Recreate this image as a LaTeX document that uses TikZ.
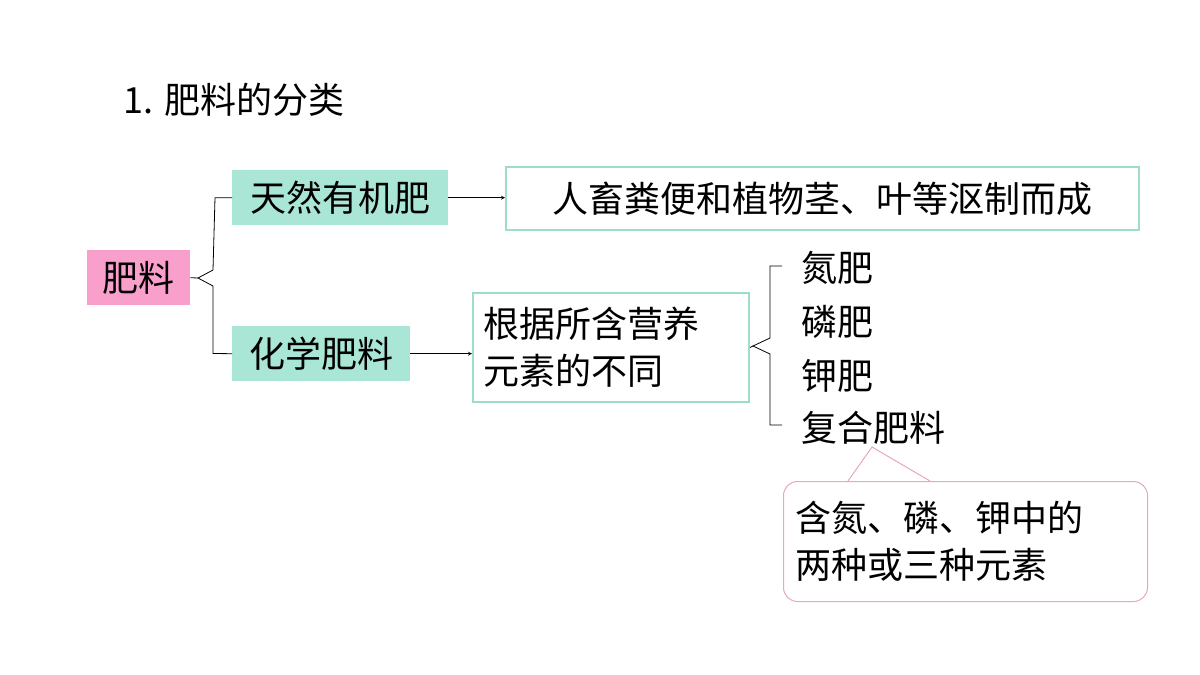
\documentclass[tikz,border=0pt]{standalone}
\usepackage{fontspec}
\setmainfont{Noto Sans CJK SC}
\begin{document}
\begin{tikzpicture}[x=1pt,y=-1pt,
  fs/.style={font=\fontsize{36}{47}\selectfont},
  tealbox/.style={fs,fill=tealfill,inner sep=0pt,anchor=north west},
  bordbox/.style={fs,draw=tealline,line width=2pt,inner sep=0pt,anchor=north west,align=left},
  arr/.style={-stealth,line width=0.8pt},
  brace/.style={line width=0.8pt}]
\definecolor{tealfill}{HTML}{A9E6D5}
\definecolor{tealline}{HTML}{9EDDCB}
\definecolor{pinkfill}{HTML}{F99FCB}
\definecolor{pinkline}{HTML}{E8A6C0}
\useasboundingbox (0,0) rectangle (1200,675);
\node[fs,anchor=west] (title) at (120,100) {1. 肥料的分类};
\node[fs,fill=pinkfill,inner sep=0pt,minimum width=103pt,minimum height=55pt,anchor=north west] (fl) at (87,250) {肥料};
\node[tealbox,minimum width=216pt,minimum height=55pt] (tr) at (232,170) {天然有机肥};
\node[tealbox,minimum width=178pt,minimum height=55pt] (hx) at (232,326) {化学肥料};
\node[bordbox,minimum width=633pt,minimum height=63pt,align=center] (rc) at (505,166) {人畜粪便和植物茎、叶等沤制而成};
\node[bordbox,minimum width=276pt,minimum height=109pt,text width=256pt] (gj) at (472,292) {根据所含营养\\元素的不同};
\draw[arr] (tr.east) -- (rc.west |- tr.east);
\draw[arr] (hx.east) -- (gj.west |- hx.east);
\coordinate (b1) at (198,278);
\draw[brace] (tr.west) -- ++(-17,0) -- (213,270) -- (b1) -- (213,286) -- (213,353.5) -- (hx.west);
\draw[brace] (fl.east) -- (b1);
\node[fs,anchor=west] (n) at (798,268) {氮肥};
\node[fs,anchor=west] (p) at (798,322) {磷肥};
\node[fs,anchor=west] (k) at (798,376) {钾肥};
\node[fs,anchor=west] (f) at (798,428) {复合肥料};
\coordinate (b2) at (753,346);
\draw[brace] (782,266) -- (770,266) -- (770,338) -- (b2) -- (770,354) -- (770,425) -- (782,425);
\draw[brace] (gj.east) -- (b2);
\node[fs,draw=pinkline,line width=1pt,rounded corners=14pt,minimum width=364pt,minimum height=120pt,anchor=north west,align=left,text width=340pt] (cb) at (783,481) {含氮、磷、钾中的\\两种或三种元素};
\fill[white] (848,480) -- (872,447) -- (930,480) -- cycle;
\draw[pinkline,line width=1pt] (848,481) -- (872,447) -- (930,481);
\end{tikzpicture}
\end{document}
